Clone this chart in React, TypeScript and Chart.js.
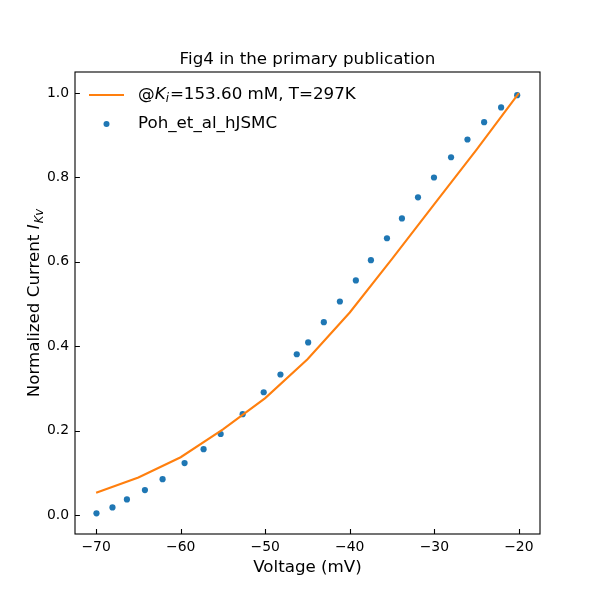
import React, { useEffect, useRef } from "react";
import { Chart, registerables } from "chart.js";

Chart.register(...registerables);

// Model curve (orange line)
const modelVoltage = [-70, -65, -60, -55, -50, -45, -40, -35, -30, -25, -20];
const modelCurrent = [0.053, 0.089, 0.137, 0.203, 0.277, 0.369, 0.48, 0.607, 0.737, 0.866, 1.0];

// Experimental data (blue dots)
const expVoltage = [
  -69.96, -68.07, -66.36, -64.23, -62.14, -59.54, -57.29, -55.27, -52.67, -50.18,
  -48.2, -46.27, -44.92, -43.07, -41.17, -39.28, -37.5, -35.6, -33.83, -31.93,
  -30.04, -28.02, -26.08, -24.11, -22.1, -20.2,
];
const expCurrent = [
  0.004, 0.018, 0.037, 0.059, 0.085, 0.123, 0.156, 0.192, 0.239, 0.291,
  0.333, 0.381, 0.409, 0.457, 0.506, 0.556, 0.604, 0.656, 0.703, 0.753,
  0.8, 0.848, 0.89, 0.931, 0.966, 0.995,
];

const xTicks = [-70, -60, -50, -40, -30, -20];
const yTicks = [0.0, 0.2, 0.4, 0.6, 0.8, 1.0];

const titleText = "Fig4 in the primary publication";
const xLabelText = "Voltage (mV)";
const legendModel = "@K_i=153.60 mM, T=297K";
const legendData = "Poh_et_al_hJSMC";

const FONT = "'DejaVu Sans', sans-serif";
const ORANGE = "#ff7f0e";
const BLUE = "#1f77b4";

const overlay = {
  id: "mplOverlay",
  afterDraw(chart: any) {
    const ctx = chart.ctx as CanvasRenderingContext2D;
    const { left, right, top, bottom } = chart.chartArea;
    const xs = chart.scales.x;
    const ys = chart.scales.y;
    ctx.save();
    // frame
    ctx.strokeStyle = "#000";
    ctx.lineWidth = 1.1;
    ctx.strokeRect(left, top, right - left, bottom - top);
    // inward ticks
    ctx.beginPath();
    xTicks.forEach((v) => {
      const px = Math.round(xs.getPixelForValue(v)) + 0.5;
      ctx.moveTo(px, bottom);
      ctx.lineTo(px, bottom - 4.9);
    });
    yTicks.forEach((v) => {
      const py = Math.round(ys.getPixelForValue(v)) + 0.5;
      ctx.moveTo(left, py);
      ctx.lineTo(left + 4.9, py);
    });
    ctx.stroke();

    ctx.fillStyle = "#000";
    // title
    ctx.font = `16.7px ${FONT}`;
    ctx.textAlign = "center";
    ctx.textBaseline = "alphabetic";
    ctx.fillText(titleText, (left + right) / 2, 64);
    // x label
    ctx.fillText(xLabelText, (left + right) / 2, 572);

    // y label with math I_{Kv}
    ctx.save();
    ctx.translate(39, (top + bottom) / 2);
    ctx.rotate(-Math.PI / 2);
    ctx.textAlign = "left";
    const part1 = "Normalized Current ";
    const f1 = `16.7px ${FONT}`;
    const f2 = `italic 16.7px ${FONT}`;
    const f3 = `italic 11.7px ${FONT}`;
    ctx.font = f1;
    const w1 = ctx.measureText(part1).width;
    ctx.font = f2;
    const w2 = ctx.measureText("I").width;
    ctx.font = f3;
    const w3 = ctx.measureText("Kv").width;
    const total = w1 + w2 + w3 + 1;
    let cx = -total / 2;
    ctx.font = f1;
    ctx.fillText(part1, cx, 0);
    cx += w1;
    ctx.font = f2;
    ctx.fillText("I", cx, 0);
    cx += w2 + 1;
    ctx.font = f3;
    ctx.fillText("Kv", cx, 3.5);
    ctx.restore();

    // legend
    const ly1 = 95;
    const ly2 = 124;
    ctx.strokeStyle = ORANGE;
    ctx.lineWidth = 2.1;
    ctx.beginPath();
    ctx.moveTo(89, ly1);
    ctx.lineTo(124, ly1);
    ctx.stroke();
    ctx.fillStyle = BLUE;
    ctx.beginPath();
    ctx.arc(106.5, ly2, 3, 0, Math.PI * 2);
    ctx.fill();

    ctx.fillStyle = "#000";
    ctx.textAlign = "left";
    ctx.textBaseline = "middle";
    const tx = 138;
    const lf = `16.7px ${FONT}`;
    const lfi = `italic 16.7px ${FONT}`;
    const lfs = `italic 11.7px ${FONT}`;
    let x = tx;
    ctx.font = lf;
    ctx.fillText("@", x, ly1);
    x += ctx.measureText("@").width;
    ctx.font = lfi;
    ctx.fillText("K", x, ly1);
    x += ctx.measureText("K").width;
    ctx.font = lfs;
    ctx.fillText("i", x, ly1 + 4);
    x += ctx.measureText("i").width + 1;
    ctx.font = lf;
    ctx.fillText("=153.60 mM, T=297K", x, ly1);
    ctx.fillText(legendData, tx, ly2);
    ctx.restore();
  },
};

export default function App() {
  const ref = useRef<HTMLCanvasElement | null>(null);
  useEffect(() => {
    if (!ref.current) return;
    const modelPts = modelVoltage.map((v, i) => ({ x: v, y: modelCurrent[i] }));
    const expPts = expVoltage.map((v, i) => ({ x: v, y: expCurrent[i] }));
    const minus = (s: string) => s.replace("-", "\u2212");
    const chart = new Chart(ref.current, {
      type: "scatter",
      data: {
        datasets: [
          {
            label: legendModel,
            data: modelPts,
            showLine: true,
            borderColor: ORANGE,
            backgroundColor: ORANGE,
            borderWidth: 2.1,
            pointRadius: 0,
            tension: 0,
          },
          {
            label: legendData,
            data: expPts,
            showLine: false,
            backgroundColor: BLUE,
            borderColor: BLUE,
            borderWidth: 0,
            pointRadius: 3.1,
          },
        ],
      },
      options: {
        animation: false,
        responsive: false,
        devicePixelRatio: 1,
        layout: { padding: { top: 72, right: 60, left: 0, bottom: 0 } },
        plugins: {
          legend: { display: false },
          title: { display: false },
          tooltip: { enabled: false },
        },
        scales: {
          x: {
            type: "linear",
            min: -72.5,
            max: -17.5,
            grid: { display: false, drawTicks: false },
            border: { display: false },
            afterBuildTicks: (s: any) => {
              s.ticks = xTicks.map((v) => ({ value: v }));
            },
            afterFit: (s: any) => {
              s.height = 66;
            },
            ticks: {
              padding: 5,
              color: "#000",
              font: { family: FONT, size: 13.9 },
              maxRotation: 0,
              autoSkip: false,
              callback: (v: any) => minus(String(v)),
            },
          },
          y: {
            type: "linear",
            min: -0.045,
            max: 1.05,
            grid: { display: false, drawTicks: false },
            border: { display: false },
            afterBuildTicks: (s: any) => {
              s.ticks = yTicks.map((v) => ({ value: v }));
            },
            afterFit: (s: any) => {
              s.width = 75;
            },
            ticks: {
              padding: 6,
              color: "#000",
              font: { family: FONT, size: 13.9 },
              autoSkip: false,
              callback: (v: any) => Number(v).toFixed(1),
            },
          },
        },
      },
      plugins: [overlay],
    });
    return () => chart.destroy();
  }, []);
  return (
    <div style={{ position: "fixed", left: 0, top: 0, width: 600, height: 600, background: "#fff" }}>
      <canvas ref={ref} width={600} height={600} style={{ width: 600, height: 600 }} />
    </div>
  );
}
